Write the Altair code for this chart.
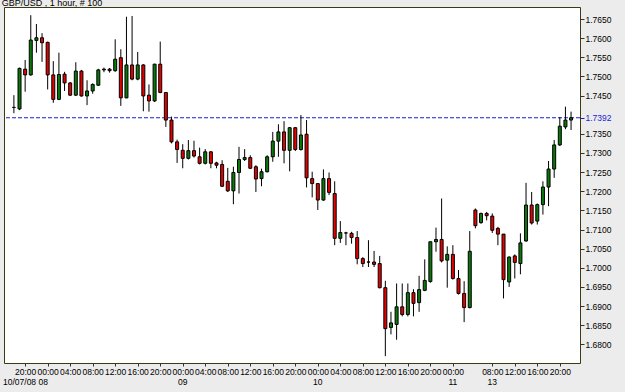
import altair as alt
import pandas as pd

# ---- data ----
opens = [1.7419, 1.7415, 1.7519, 1.7504, 1.7594, 1.7601, 1.7589, 1.7504, 1.7440, 1.7506,
         1.7483, 1.7451, 1.7514, 1.7449, 1.7462, 1.7477, 1.7517, 1.7519, 1.7515, 1.7549,
         1.7444, 1.7530, 1.7493, 1.7530, 1.7451, 1.7436, 1.7532, 1.7458, 1.7386, 1.7329,
         1.7307, 1.7286, 1.7306, 1.7290, 1.7273, 1.7303, 1.7274, 1.7270, 1.7226, 1.7201,
         1.7249, 1.7283, 1.7288, 1.7264, 1.7233, 1.7251, 1.7290, 1.7331, 1.7355, 1.7307,
         1.7366, 1.7309, 1.7349, 1.7233, 1.7220, 1.7177, 1.7233, 1.7194, 1.7077, 1.7091,
         1.7090, 1.7079, 1.7024, 1.7015, 1.7015, 1.7011, 1.6948, 1.6844, 1.6852, 1.6898,
         1.6878, 1.6935, 1.6909, 1.6941, 1.6964, 1.7068, 1.7074, 1.7020, 1.7035, 1.6972,
         1.6933, 1.6896, 1.7151, 1.7118, 1.7142, 1.7135, 1.7103, 1.7088, 1.6963, 1.7031,
         1.7011, 1.7070, 1.7164, 1.7122, 1.7165, 1.7211, 1.7258, 1.7321, 1.7368, 1.7386]
highs = [1.7451, 1.7523, 1.7543, 1.7660, 1.7637, 1.7613, 1.7591, 1.7540, 1.7562, 1.7512,
         1.7485, 1.7537, 1.7517, 1.7490, 1.7482, 1.7520, 1.7523, 1.7522, 1.7597, 1.7571,
         1.7656, 1.7658, 1.7564, 1.7532, 1.7479, 1.7533, 1.7591, 1.7459, 1.7395, 1.7335,
         1.7323, 1.7334, 1.7332, 1.7314, 1.7310, 1.7305, 1.7277, 1.7281, 1.7261, 1.7264,
         1.7316, 1.7310, 1.7294, 1.7268, 1.7259, 1.7294, 1.7355, 1.7375, 1.7383, 1.7368,
         1.7368, 1.7399, 1.7386, 1.7251, 1.7221, 1.7257, 1.7249, 1.7226, 1.7122, 1.7094,
         1.7094, 1.7096, 1.7028, 1.7072, 1.7044, 1.7031, 1.6966, 1.6885, 1.6959, 1.6959,
         1.6959, 1.6944, 1.6979, 1.7022, 1.7068, 1.7105, 1.7181, 1.7056, 1.7059, 1.6994,
         1.6965, 1.7096, 1.7155, 1.7144, 1.7146, 1.7142, 1.7107, 1.7088, 1.7030, 1.7035,
         1.7090, 1.7222, 1.7198, 1.7168, 1.7226, 1.7279, 1.7334, 1.7394, 1.7421, 1.7408]
lows = [1.7404, 1.7412, 1.7460, 1.7502, 1.7562, 1.7538, 1.7466, 1.7431, 1.7438, 1.7462,
        1.7449, 1.7449, 1.7447, 1.7425, 1.7455, 1.7475, 1.7511, 1.7510, 1.7512, 1.7423,
        1.7443, 1.7490, 1.7490, 1.7409, 1.7408, 1.7433, 1.7456, 1.7368, 1.7325, 1.7274,
        1.7260, 1.7283, 1.7288, 1.7270, 1.7270, 1.7260, 1.7260, 1.7211, 1.7198, 1.7166,
        1.7194, 1.7279, 1.7258, 1.7198, 1.7213, 1.7249, 1.7277, 1.7290, 1.7273, 1.7252,
        1.7305, 1.7306, 1.7210, 1.7184, 1.7151, 1.7175, 1.7190, 1.7059, 1.7065, 1.7059,
        1.7063, 1.7009, 1.7002, 1.7002, 1.7002, 1.6946, 1.6769, 1.6826, 1.6812, 1.6873,
        1.6873, 1.6873, 1.6885, 1.6939, 1.6961, 1.7042, 1.7014, 1.6948, 1.6969, 1.6930,
        1.6858, 1.6894, 1.7103, 1.7115, 1.7124, 1.7091, 1.7059, 1.6920, 1.6950, 1.6972,
        1.6983, 1.7068, 1.7113, 1.7113, 1.7139, 1.7161, 1.7235, 1.7318, 1.7362, 1.7360]
closes = [1.7419, 1.7521, 1.7504, 1.7595, 1.7601, 1.7588, 1.7504, 1.7440, 1.7505, 1.7483,
          1.7451, 1.7514, 1.7449, 1.7462, 1.7479, 1.7517, 1.7519, 1.7515, 1.7545, 1.7444,
          1.7530, 1.7493, 1.7530, 1.7449, 1.7436, 1.7532, 1.7458, 1.7386, 1.7329, 1.7309,
          1.7286, 1.7306, 1.7292, 1.7273, 1.7303, 1.7273, 1.7268, 1.7213, 1.7201, 1.7249,
          1.7283, 1.7288, 1.7260, 1.7232, 1.7251, 1.7290, 1.7331, 1.7355, 1.7307, 1.7366,
          1.7309, 1.7347, 1.7235, 1.7220, 1.7177, 1.7233, 1.7197, 1.7077, 1.7092, 1.7091,
          1.7079, 1.7024, 1.7011, 1.7015, 1.7009, 1.6948, 1.6841, 1.6856, 1.6898, 1.6878,
          1.6935, 1.6907, 1.6943, 1.6967, 1.7068, 1.7074, 1.7018, 1.7035, 1.6972, 1.6933,
          1.6896, 1.7043, 1.7110, 1.7142, 1.7136, 1.7098, 1.7088, 1.6969, 1.7028, 1.7014,
          1.7065, 1.7164, 1.7117, 1.7165, 1.7211, 1.7258, 1.7321, 1.7370, 1.7386, 1.7392]

time_tick_pos = [2, 6, 10, 14, 18, 22, 26, 30, 34, 38, 42, 46, 50, 54, 58, 62, 66, 70,
                 74, 78, 85, 89, 93, 97]
time_tick_labels = ["20:00", "00:00", "04:00", "08:00", "12:00", "16:00",
                    "20:00", "00:00", "04:00", "08:00", "12:00", "16:00",
                    "20:00", "00:00", "04:00", "08:00", "12:00", "16:00",
                    "20:00", "00:00", "08:00", "12:00", "16:00", "20:00"]
day_label_pos = [30, 54, 78, 85]
day_labels = ["09", "10", "11", "13"]
first_date_label = "10/07/08 08"
chart_title = "GBP/USD , 1 hour, # 100"
last_price = 1.7392
price_ticks = [1.6800, 1.6850, 1.6900, 1.6950, 1.7000, 1.7050, 1.7100, 1.7150,
               1.7200, 1.7250, 1.7300, 1.7350, 1.7392, 1.7450, 1.7500, 1.7550,
               1.7600, 1.7650]

# ---- styling ----
FONT = "Liberation Sans"
GREEN = "#0a780a"
RED = "#e60000"
BLUE = "#1c1cd0"

direction = ["up" if c > o else ("down" if c < o else "flat") for o, c in zip(opens, closes)]
df = pd.DataFrame({"i": list(range(len(opens))), "open": opens, "high": highs,
                   "low": lows, "close": closes, "dir": direction})

xs = alt.Scale(domain=[-0.87, 99.7], nice=False, zero=False)
ys = alt.Scale(domain=[1.67512, 1.76814], nice=False, zero=False)

label_expr = ("[" + ",".join("'%s'" % s for s in time_tick_labels) + "][indexof(["
              + ",".join(str(v) for v in time_tick_pos) + "], datum.value)]")
is_last = "abs(datum.value - %s) < 0.00001" % last_price

x_axis = alt.Axis(values=time_tick_pos, labelExpr=label_expr, title=None, domain=False,
                  grid=False, tickSize=3, tickColor="#333333", labelPadding=1,
                  labelFont=FONT, labelFontSize=8.5, labelColor="#000000",
                  labelOverlap=False, labelFlush=False)
y_axis = alt.Axis(orient="right", values=price_ticks, format=".4f", title=None,
                  domain=False, grid=False, tickSize=4,
                  tickColor={"condition": {"test": is_last, "value": BLUE}, "value": "#333333"},
                  labelColor={"condition": {"test": is_last, "value": BLUE}, "value": "#000000"},
                  labelPadding=1, labelFont=FONT, labelFontSize=8.5,
                  labelOverlap=False, labelFlush=False)

X = alt.X("i:Q", scale=xs, axis=x_axis)

base = alt.Chart(df)

price_line = alt.Chart(pd.DataFrame({"p": [last_price]})).mark_rule(
    color=BLUE, strokeDash=[4, 2], strokeWidth=1
).encode(y=alt.Y("p:Q", scale=ys, axis=y_axis))

wicks = base.mark_rule(color="#000000", strokeWidth=1).encode(
    x=X,
    y=alt.Y("low:Q", scale=ys, axis=y_axis),
    y2="high:Q",
)

bodies = base.mark_bar(size=3, stroke="#000000", strokeWidth=1).encode(
    x=X,
    y=alt.Y("open:Q", scale=ys, axis=y_axis),
    y2="close:Q",
    color=alt.Color("dir:N", scale=alt.Scale(domain=["up", "down", "flat"],
                                             range=[GREEN, RED, "#000000"]), legend=None),
)

days = alt.Chart(pd.DataFrame({"pos": day_label_pos, "label": day_labels})).mark_text(
    font=FONT, fontSize=8.5, baseline="middle", align="center", color="#000000"
).encode(x=alt.X("pos:Q", scale=xs, axis=x_axis), y=alt.value(374.7), text="label:N")

first_day = alt.Chart(pd.DataFrame({"t": [first_date_label]})).mark_text(
    font=FONT, fontSize=8.5, baseline="middle", align="left", color="#000000"
).encode(x=alt.value(-1), y=alt.value(374.7), text="t:N")

title = alt.Chart(pd.DataFrame({"t": [chart_title]})).mark_text(
    font=FONT, fontSize=9, baseline="alphabetic", align="left", color="#000000"
).encode(x=alt.value(-2.3), y=alt.value(-1.2), text="t:N")

chart = alt.layer(price_line, wicks, bodies, days, first_day, title).properties(
    width=576, height=356,
    autosize=alt.AutoSizeParams(type="none"),
    padding={"left": 4, "top": 7, "right": 45, "bottom": 29},
).configure(background="#ececec").configure_view(fill="#ffffff", stroke="#3a3a14", strokeWidth=1)

chart.save("out.html", embed_options={"renderer": "svg", "actions": False})
